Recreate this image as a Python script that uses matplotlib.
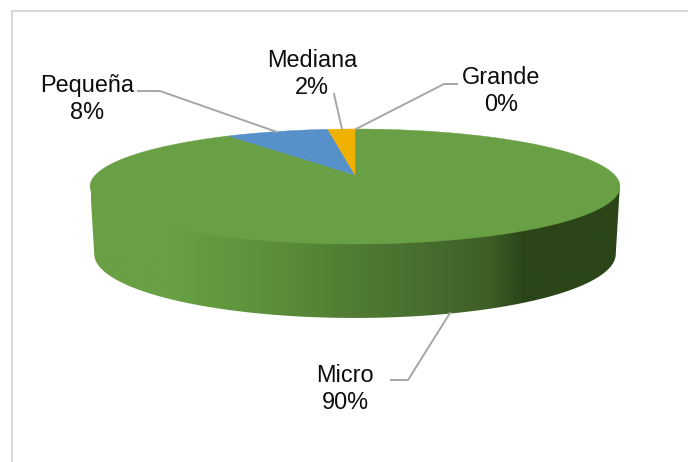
import numpy as np
import matplotlib
matplotlib.use("Agg")
import matplotlib.pyplot as plt
from matplotlib.colors import LinearSegmentedColormap
from matplotlib.patches import Polygon

plt.rcParams["font.family"] = ["Liberation Sans", "DejaVu Sans"]

categories = ["Grande", "Micro", "Pequeña", "Mediana"]  # clockwise from 12 o'clock
values = [0.0, 90.4, 7.6, 2.0]
colors = ["#7f7f7f", "#6aa045", "#5590c8", "#f0b000"]
labels = ["0%", "90%", "8%", "2%"]


def top_ring(theta):
    # perspective view of the round top, the far side is squeezed
    s, c = np.sin(theta), np.cos(theta)
    return 355 + 259.6 * s / (1 + 0.2 * c), 175 - 55.2 * c / (1 + 0.2 * c)


def bottom_ring(theta):
    s, c = np.sin(theta), np.cos(theta)
    return 355 + 255.5 * s / (1 + 0.2 * c), 241.2 - 61.4 * c / (1 + 0.2 * c)


fig = plt.figure(figsize=(6.88, 4.62), dpi=100)
ax = fig.add_axes([0, 0, 1, 1])
ax.set_xlim(0, 688)
ax.set_ylim(462, 0)
ax.axis("off")

# chart frame
ax.plot([12, 12, 688], [462, 11, 11], color="#d9d9d9", lw=1.5, solid_joinstyle="miter")

# side wall, shaded from left to right
# theta where the ring is widest is cos = -0.2
wall_t = np.linspace(np.arccos(-0.2), 2 * np.pi - np.arccos(-0.2), 200)
tx, ty = top_ring(wall_t)
bx, by = bottom_ring(wall_t)
# start the wall a bit above the rim so no white seam shows under the top face
wall = Polygon(np.vstack([np.column_stack([tx, ty - 2]), np.column_stack([bx, by])[::-1]]),
               closed=True, fc="none", ec="none")
ax.add_patch(wall)
wall_cmap = LinearSegmentedColormap.from_list("wall", [
    (0.0, "#6aa045"), (0.15, "#68a043"), (0.3, "#5f943c"), (0.47, "#527f35"), (0.64, "#486c2e"),
    (0.75, "#3e5f26"), (0.82, "#2b4519"), (1.0, "#2b4519")])
grad = ax.imshow(np.linspace(0, 1, 256).reshape(1, -1), cmap=wall_cmap, aspect="auto",
                 extent=[91, 620, 330, 180], zorder=1)
grad.set_clip_path(wall)
ax.set_xlim(0, 688)
ax.set_ylim(462, 0)

# top face, wedges go clockwise from the top
angles = np.cumsum([0] + values) / sum(values) * 2 * np.pi
for i in range(len(values)):
    if values[i] == 0:
        continue
    t = np.linspace(angles[i], angles[i + 1], 300)
    x, y = top_ring(t)
    pts = np.column_stack([np.r_[355, x], np.r_[175, y]])
    ax.add_patch(Polygon(pts, closed=True, fc=colors[i], ec=colors[i], lw=0.3, zorder=2))

# leader lines
line_x = [[356, 444, 457], [391, 408, 450], [138, 160, 277], [334, 342]]
line_y = [[129, 84, 84], [380, 380, 313], [91, 91, 132], [94, 129]]
for lx, ly in zip(line_x, line_y):
    ax.plot(lx, ly, color="#a6a6a6", lw=1.4, zorder=3)

# data labels
text_x = [501, 345, 87, 312]
text_y = [91, 389, 99, 74]
for i in range(len(categories)):
    ax.text(text_x[i], text_y[i], categories[i] + "\n" + labels[i], ha="center", va="center",
            fontsize=16.9, color="#0d0d0d", linespacing=1.18, zorder=4)

fig.savefig("out.png", dpi=100)
